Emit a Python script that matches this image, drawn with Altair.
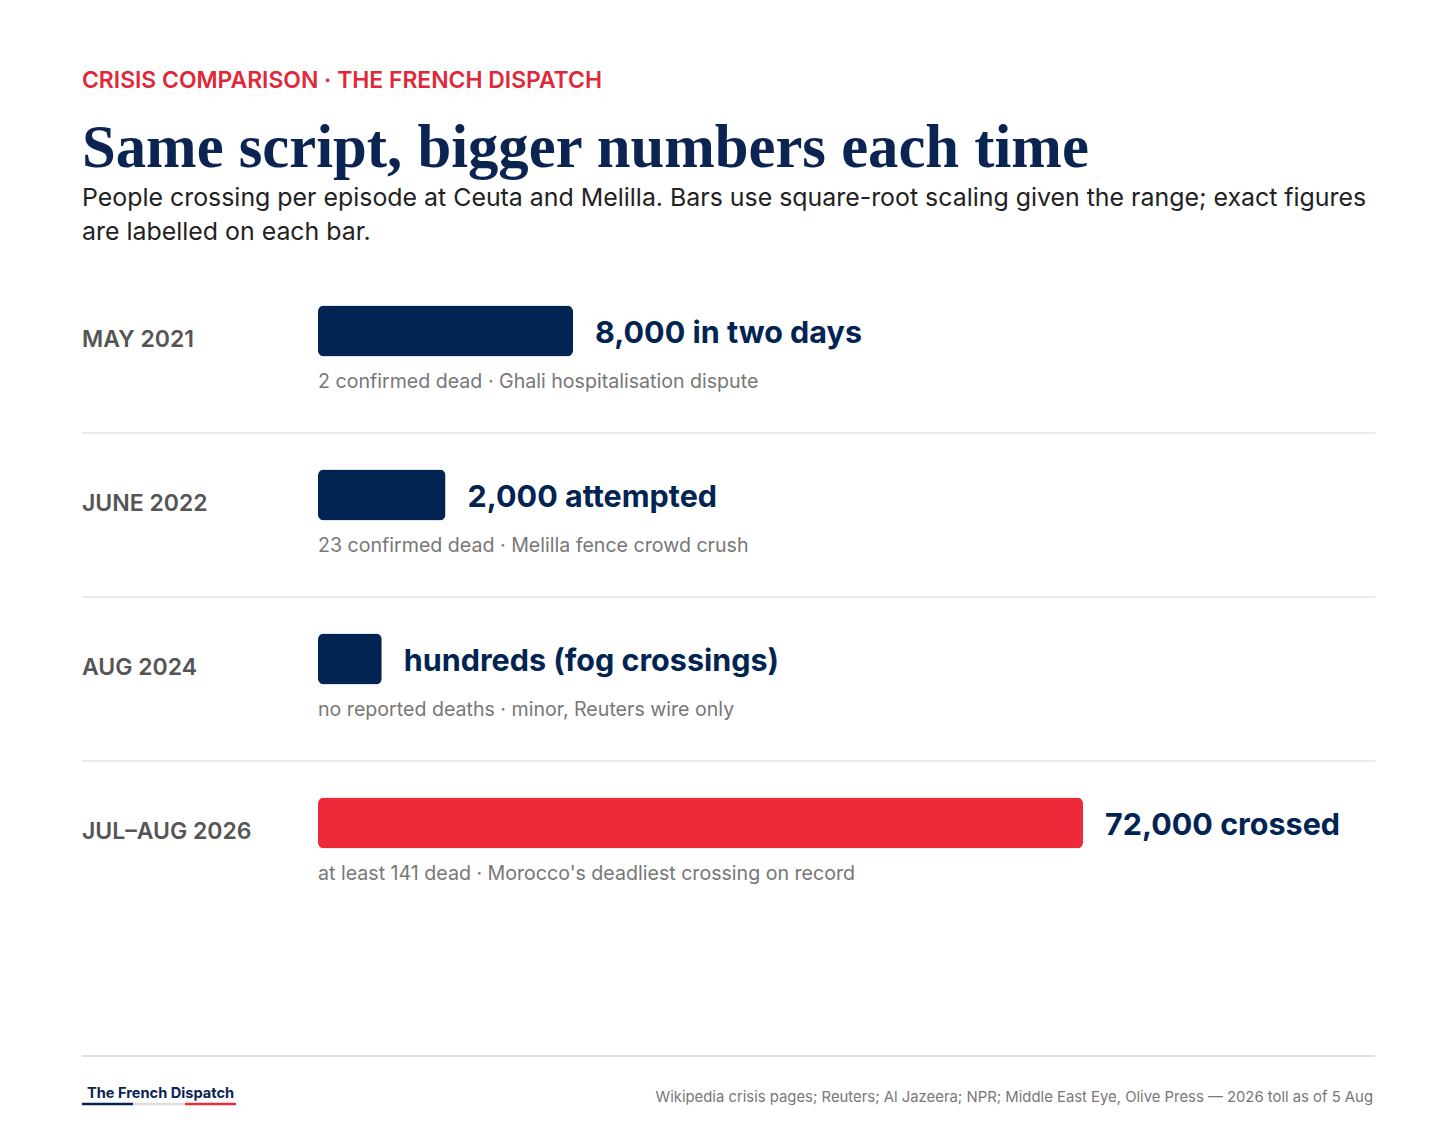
import pandas as pd
import altair as alt

# Values
periods = ["MAY 2021", "JUNE 2022", "AUG 2024", "JUL–AUG 2026"]
crossings = [8000, 2000, 500, 72000]
bar_labels = ["8,000 in two days", "2,000 attempted", "hundreds (fog crossings)", "72,000 crossed"]
notes = [
    "2 confirmed dead · Ghali hospitalisation dispute",
    "23 confirmed dead · Melilla fence crowd crush",
    "no reported deaths · minor, Reuters wire only",
    "at least 141 dead · Morocco's deadliest crossing on record",
]

kicker = "CRISIS COMPARISON · THE FRENCH DISPATCH"
headline = "Same script, bigger numbers each time"
subtitle = [
    "People crossing per episode at Ceuta and Melilla. Bars use square-root scaling given the range; exact figures",
    "are labelled on each bar.",
]
brand = "The French Dispatch"
source = "Wikipedia crisis pages; Reuters; Al Jazeera; NPR; Middle East Eye, Olive Press — 2026 toll as of 5 Aug"

NAVY = "#022452"
RED = "#ee2a3a"
SANS = "Inter"
SERIF = "Liberation Serif"
W, H = 1293, 656

df = pd.DataFrame({
    "period": periods,
    "crossings": crossings,
    "label": bar_labels,
    "note": notes,
})

base = alt.Chart(df).transform_joinaggregate(peak="max(crossings)")

yscale = alt.Scale(paddingInner=0, paddingOuter=0)
xscale = alt.Scale(type="sqrt", domain=[0, 72000], range=[236, 1001], nice=False)

y = alt.Y("period:N", sort=periods, scale=yscale, axis=None)
x = alt.X("crossings:Q", scale=xscale, axis=None)

bars = base.mark_bar(size=51, cornerRadius=6, yOffset=-20).encode(
    x=x, y=y,
    color=alt.condition("datum.crossings == datum.peak", alt.value(RED), alt.value(NAVY)),
)

values = base.mark_text(align="left", baseline="alphabetic", dx=22, dy=-8,
                        font=SANS, fontSize=30.5, fontWeight=700, color=NAVY).encode(
    x=x, y=y, text="label:N")

period_text = base.mark_text(align="left", baseline="alphabetic", dy=-4,
                             font=SANS, fontSize=23, fontWeight=600, color="#555555").encode(
    x=alt.value(0), y=y, text="period:N")

note_text = base.mark_text(align="left", baseline="alphabetic", dy=37,
                           font=SANS, fontSize=19.6, color="#777777").encode(
    x=alt.X(datum=0, scale=xscale, axis=None), y=y, text="note:N")

separators = base.transform_filter(
    alt.FieldOneOfPredicate(field="period", oneOf=periods[:-1])
).mark_rule(color="#e4e4e4", strokeWidth=1.5).encode(
    y=alt.Y("period:N", sort=periods, bandPosition=1, scale=yscale, axis=None),
    x=alt.value(0), x2=alt.value(W),
)

# header and footer annotations
ann = alt.Chart(pd.DataFrame({"k": [0]}))

kicker_text = ann.mark_text(text=kicker, align="left", baseline="alphabetic",
                            font=SANS, fontSize=22.9, fontWeight=600, color="#e0283a").encode(
    x=alt.value(0), y=alt.value(-181))
title_text = ann.mark_text(text=headline, align="left", baseline="alphabetic",
                           font=SERIF, fontSize=60.7, fontWeight="bold", color="#0b2452").encode(
    x=alt.value(0), y=alt.value(-102))
sub_text = ann.mark_text(text=subtitle, align="left", baseline="alphabetic", lineHeight=34,
                         font=SANS, fontSize=24.9, color="#222222").encode(
    x=alt.value(0), y=alt.value(-63))

footer_rule = ann.mark_rule(color="#d8d8cc", strokeWidth=1.5).encode(
    x=alt.value(0), x2=alt.value(W), y=alt.value(787))
brand_text = ann.mark_text(text=brand, align="left", baseline="alphabetic",
                           font=SANS, fontSize=14.6, fontWeight=700, color="#0b2452").encode(
    x=alt.value(5), y=alt.value(829))
u1 = ann.mark_rule(color=NAVY, strokeWidth=2.5).encode(
    x=alt.value(0), x2=alt.value(51), y=alt.value(835))
u2 = ann.mark_rule(color="#dddddd", strokeWidth=2.5).encode(
    x=alt.value(51), x2=alt.value(103), y=alt.value(835))
u3 = ann.mark_rule(color=RED, strokeWidth=2.5).encode(
    x=alt.value(103), x2=alt.value(154), y=alt.value(835))
source_text = ann.mark_text(text=source, align="right", baseline="alphabetic",
                            font=SANS, fontSize=14.85, color="#777777").encode(
    x=alt.value(1291), y=alt.value(833))

chart = alt.layer(
    separators, bars, values, period_text, note_text,
    kicker_text, title_text, sub_text,
    footer_rule, brand_text, u1, u2, u3, source_text,
).properties(
    width=W,
    height=H,
    autosize=alt.AutoSizeParams(type="none"),
    padding={"left": 74, "top": 261, "right": 73, "bottom": 205},
    background="white",
).configure_view(
    strokeWidth=0
)

chart.save("out.html", embed_options={"renderer": "svg", "actions": False})
